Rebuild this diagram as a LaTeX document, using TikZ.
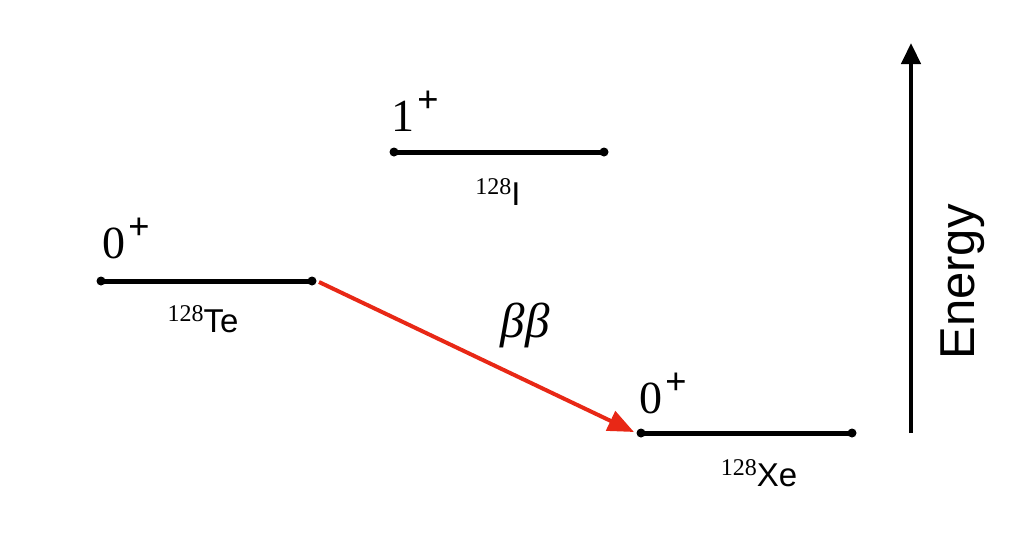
\documentclass[tikz,border=0pt]{standalone}
\usepackage{fontspec}
\setmainfont{Liberation Serif}
\setsansfont{Liberation Sans}
\usetikzlibrary{arrows.meta}
\definecolor{arrowred}{RGB}{232,40,22}
\tikzset{
  level/.style={line width=5pt, line cap=round, black},
  enddot/.style={fill=black, circle, inner sep=0pt, minimum size=9pt},
  spin/.style={inner sep=0pt, anchor=base west, font=\fontsize{46}{50}\selectfont},
  nuc/.style={inner sep=0pt, anchor=base},
  decay/.style={line width=4pt, arrowred, -{Triangle[length=26pt,width=21pt]}},
  axis/.style={line width=4.5pt, black, -{Triangle[length=21pt,width=19pt]}},
}
\newcommand{\spinlab}[2]{#1\hspace{3pt}\raisebox{19pt}{\fontsize{38}{40}\selectfont\bfseries #2}}
\newcommand{\nuclab}[2]{{\fontsize{24}{26}\selectfont\raisebox{11pt}{#1}}{\sffamily\fontsize{33}{36}\selectfont #2}}
\begin{document}
\begin{tikzpicture}[x=1pt,y=-1pt]
\useasboundingbox (0,0) rectangle (1034,536);
% Te level
\coordinate (teA) at (101,281);
\coordinate (teB) at (312,281);
\draw[level] (teA) -- (teB);
\node[enddot] at (teA) {};
\node[enddot] at (teB) {};
\node[spin] (teSpin) at (102,258) {\spinlab{0}{+}};
\node[nuc] (teName) at (203,332) {\nuclab{128}{Te}};
% I level
\coordinate (iA) at (394,152);
\coordinate (iB) at (604,152);
\draw[level] (iA) -- (iB);
\node[enddot] at (iA) {};
\node[enddot] at (iB) {};
\node[spin] (iSpin) at (391,131) {\spinlab{1}{+}};
\node[nuc] (iName) at (498,205) {\nuclab{128}{I}};
% Xe level
\coordinate (xeA) at (641,433);
\coordinate (xeB) at (852,433);
\draw[level] (xeA) -- (xeB);
\node[enddot] at (xeA) {};
\node[enddot] at (xeB) {};
\node[spin] (xeSpin) at (639,413) {\spinlab{0}{+}};
\node[nuc] (xeName) at (759,486) {\nuclab{128}{Xe}};
% decay arrow
\coordinate (dStart) at (319,282);
\coordinate (dEnd) at (634,432);
\draw[decay] (dStart) -- (dEnd);
\node[inner sep=0pt, font=\fontsize{49}{52}\selectfont\itshape] (bb) at (525,325) {ββ};
% energy axis
\coordinate (eBot) at (911,433);
\coordinate (eTop) at (911,43);
\draw[axis] (eBot) -- (eTop);
\node[inner sep=0pt, rotate=90, font=\sffamily\fontsize{49}{52}\selectfont] (energy) at (963,282) {Energy};
\end{tikzpicture}
\end{document}
